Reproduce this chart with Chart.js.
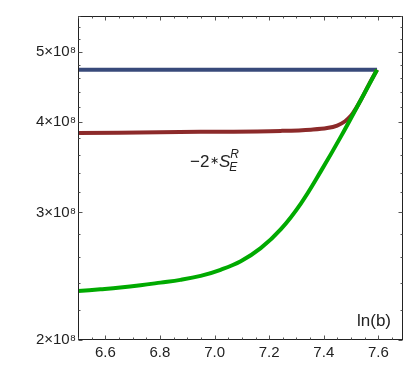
<!DOCTYPE html>
<html>
<head>
<meta charset="utf-8">
<script src="https://cdn.jsdelivr.net/npm/chart.js@4.4.1/dist/chart.umd.min.js"></script>
<style>
  body { margin: 0; background: #fff; }
  canvas { display: block; }
</style>
</head>
<body>
<canvas id="entropyCanvas" width="407" height="386"></canvas>
<script>
// Données
var xTicks = [6.6, 6.8, 7.0, 7.2, 7.4, 7.6];
var yTicks = [2e8, 3e8, 4e8, 5e8];

var greenX = [6.5, 6.582, 6.655, 6.729, 6.802, 6.875, 6.949, 7.022, 7.096, 7.169, 7.243, 7.316, 7.390, 7.463, 7.537, 7.595];
var greenY = [2.337e8, 2.350e8, 2.363e8, 2.380e8, 2.400e8, 2.421e8, 2.452e8, 2.500e8, 2.569e8, 2.678e8, 2.845e8, 3.086e8, 3.423e8, 3.820e8, 4.299e8, 4.72e8];

var redX = [6.5, 6.949, 7.243, 7.353, 7.412, 7.449, 7.478, 7.500, 7.518, 7.537, 7.566, 7.595];
var redY = [3.861e8, 3.875e8, 3.887e8, 3.902e8, 3.922e8, 3.954e8, 4.008e8, 4.080e8, 4.175e8, 4.299e8, 4.510e8, 4.72e8];

var blueX = [6.5, 7.595];
var blueY = [4.72e8, 4.72e8];

function toPoints(xs, ys) {
  return xs.map(function (x, i) { return { x: x, y: ys[i] }; });
}

var fontFamily = "'Liberation Sans', Arial, sans-serif";

// Cadre + graduations vers l'intérieur + annotations
var frameTicks = {
  id: 'frameTicks',
  afterDraw: function (chart) {
    var ctx = chart.ctx;
    var a = chart.chartArea;
    var sx = chart.scales.x;
    var sy = chart.scales.y;
    ctx.save();
    ctx.strokeStyle = '#222';
    ctx.lineWidth = 1;
    var L = Math.round(a.left) + 0.5, R = Math.round(a.right) - 0.5;
    var T = Math.round(a.top) + 0.5, B = Math.round(a.bottom) - 0.5;
    ctx.strokeRect(L, T, R - L, B - T);

    ctx.strokeStyle = '#555';
    ctx.beginPath();
    // graduations x
    for (var k = 0; k <= 24; k++) {
      var v = 6.5 + k * 0.05;
      if (v > 7.69) break;
      var major = xTicks.some(function (t) { return Math.abs(t - v) < 1e-6; });
      var len = major ? 4 : 2;
      var px = Math.round(sx.getPixelForValue(v)) + 0.5;
      ctx.moveTo(px, B); ctx.lineTo(px, B - len);
      ctx.moveTo(px, T); ctx.lineTo(px, T + len);
    }
    // graduations y
    for (var j = 0; j <= 20; j++) {
      var w = 2e8 + j * 0.2e8;
      if (w > 5.6e8) break;
      var majorY = yTicks.some(function (t) { return Math.abs(t - w) < 1; });
      var lenY = majorY ? 4 : 2;
      var py = Math.round(sy.getPixelForValue(w)) + 0.5;
      ctx.moveTo(L, py); ctx.lineTo(L + lenY, py);
      ctx.moveTo(R, py); ctx.lineTo(R - lenY, py);
    }
    ctx.stroke();

    // Textes
    ctx.fillStyle = '#222';
    ctx.textBaseline = 'alphabetic';
    ctx.textAlign = 'left';
    ctx.font = '17px ' + fontFamily;
    ctx.fillText('ln(b)', 357, 326);

    var x0 = 190, base = 167;
    ctx.font = '17px ' + fontFamily;
    ctx.fillText('\u22122', x0, base);
    var w1 = ctx.measureText('\u22122').width;
    ctx.font = '11px ' + fontFamily;
    ctx.fillText('\u2217', x0 + w1 + 0.5, base - 3);
    var w1b = ctx.measureText('\u2217').width;
    ctx.font = 'italic 17px ' + fontFamily;
    ctx.fillText('S', x0 + w1 + w1b + 0.5, base);
    var w2 = ctx.measureText('S').width;
    var xs = x0 + w1 + w1b + 0.5 + w2;
    ctx.font = 'italic 12px ' + fontFamily;
    ctx.fillText('R', xs, base - 9);
    ctx.fillText('E', xs - 1, base + 4);
    ctx.restore();
  }
};

var config = {
  type: 'line',
  data: {
    datasets: [
      {
        label: 'green',
        data: toPoints(greenX, greenY),
        borderColor: 'rgb(0, 170, 0)',
        borderWidth: 4,
        tension: 0.4,
        pointRadius: 0,
        fill: false,
      },
      {
        label: 'red',
        data: toPoints(redX, redY),
        borderColor: 'rgb(140, 42, 42)',
        borderWidth: 4,
        cubicInterpolationMode: 'monotone',
        pointRadius: 0,
        fill: false,
      },
      {
        label: 'blue',
        data: toPoints(blueX, blueY),
        borderColor: 'rgb(56, 74, 122)',
        borderWidth: 4,
        pointRadius: 0,
        fill: false,
      },
    ]
  },
  options: {
    responsive: false,
    animation: false,
    layout: {
      padding: { left: 0, right: 4, top: 16, bottom: 0 }
    },
    plugins: {
      legend: { display: false },
      tooltip: { enabled: false },
    },
    scales: {
      x: {
        type: 'linear',
        min: 6.5,
        max: 7.69,
        grid: { display: false, drawTicks: false },
        border: { display: false },
        afterBuildTicks: function (s) { s.ticks = xTicks.map(function (v) { return { value: v }; }); },
        afterFit: function (s) { s.height = 46; },
        ticks: {
          callback: function (v) { return Number(v).toFixed(1); },
          color: '#222',
          font: { size: 15, family: fontFamily },
          padding: 4,
          maxRotation: 0,
          autoSkip: false,
        }
      },
      y: {
        type: 'logarithmic',
        min: 2e8,
        max: 5.6e8,
        grid: { display: false, drawTicks: false },
        border: { display: false },
        afterBuildTicks: function (s) { s.ticks = yTicks.map(function (v) { return { value: v }; }); },
        afterFit: function (s) { s.width = 78; },
        ticks: {
          callback: function (v) { return Math.round(v / 1e8) + '\u00d710\u2078'; },
          color: '#222',
          font: { size: 15, family: fontFamily },
          padding: 2,
          autoSkip: false,
        }
      }
    }
  },
  plugins: [frameTicks]
};

var myChart = new Chart(document.getElementById('entropyCanvas'), config);
</script>
</body>
</html>
